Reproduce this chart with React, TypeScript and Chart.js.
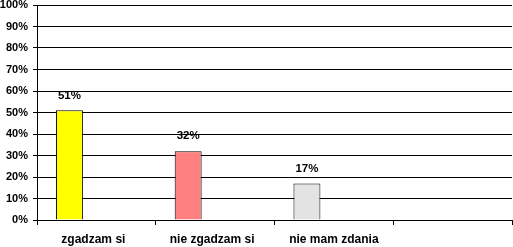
import React, { useEffect, useRef } from "react";
import { Chart, registerables } from "chart.js";

Chart.register(...registerables);

const categories = ["zgadzam si", "nie zgadzam si", "nie mam zdania", ""];
const values = [51, 32, 17, null];
const barColors = ["#FFFF00", "#FF8080", "#E3E3E3", "#FFFFFF"];
const yTicks = [0, 10, 20, 30, 40, 50, 60, 70, 80, 90, 100];

const labelPlugin = {
  id: "barLabels",
  afterDatasetsDraw(chart: any) {
    const ctx = chart.ctx;
    const meta = chart.getDatasetMeta(0);
    ctx.save();
    ctx.font = "bold 11.5px 'Liberation Sans', Arial, sans-serif";
    ctx.fillStyle = "#000";
    ctx.textAlign = "center";
    ctx.textBaseline = "middle";
    meta.data.forEach((bar: any, i: number) => {
      const v = values[i];
      if (v == null) return;
      ctx.fillText(v + "%", bar.x, bar.y - 15);
    });
    ctx.restore();
  },
};

export default function App() {
  const ref = useRef<HTMLCanvasElement>(null);
  useEffect(() => {
    const chart = new Chart(ref.current!, {
      type: "bar",
      data: {
        labels: categories,
        datasets: [
          {
            data: values as any,
            backgroundColor: barColors,
            borderColor: "#000",
            borderWidth: 1,
            barPercentage: 0.5,
            categoryPercentage: 0.9076,
          },
          {
            data: [null, null, null, null] as any,
            barPercentage: 0.5,
            categoryPercentage: 0.9076,
          },
        ],
      },
      options: {
        responsive: false,
        animation: false,
        layout: { padding: { top: 5, right: 1, left: 0, bottom: 0 } },
        plugins: { legend: { display: false }, tooltip: { enabled: false } },
        scales: {
          x: {
            grid: {
              offset: true,
              drawOnChartArea: false,
              drawTicks: true,
              tickLength: 5,
              color: "#000",
            },
            border: { display: true, color: "#000" },
            ticks: {
              color: "#000",
              padding: 7,
              maxRotation: 0,
              autoSkip: false,
              callback: (_v: any, i: number) => {
                const s = categories[i];
                return s.endsWith("si") ? s + "\u2002" : s;
              },
              font: { family: "'Liberation Sans', Arial, sans-serif", size: 12, weight: "bold" },
            },
            afterFit(scale: any) {
              scale.height = 27;
              scale.paddingLeft = 0;
              scale.paddingRight = 0;
            },
          },
          y: {
            min: 0,
            max: 100,
            afterBuildTicks(scale: any) {
              scale.ticks = yTicks.map((v) => ({ value: v }));
            },
            grid: { color: "#000", tickLength: 4, drawTicks: true },
            border: { display: true, color: "#000" },
            ticks: {
              color: "#000",
              padding: 5,
              callback: (v: any) => v + "%",
              font: { family: "'Liberation Sans', Arial, sans-serif", size: 11, weight: "bold" },
            },
            afterFit(scale: any) {
              scale.width = 37;
              scale.paddingTop = 0;
              scale.paddingBottom = 0;
            },
          },
        },
      },
      plugins: [labelPlugin],
    } as any);
    return () => chart.destroy();
  }, []);
  return (
    <div style={{ position: "absolute", left: 0, top: 0, width: 513, height: 247, background: "#fff" }}>
      <canvas ref={ref} width={513} height={247} style={{ display: "block" }} />
    </div>
  );
}
